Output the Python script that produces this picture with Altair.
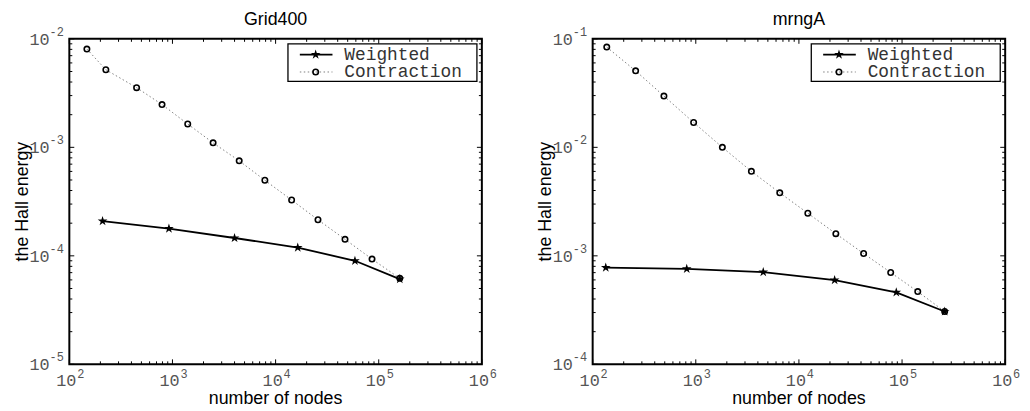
import altair as alt
import pandas as pd

# ---------------- data ----------------
titles = ["Grid400", "mrngA"]
series_names = ["Weighted", "Contraction"]
x_title = "number of nodes"
y_title = "the Hall energy"

grid_w_x = [210, 924, 4000, 16400, 58800, 160000]
grid_w_y = [2.09e-4, 1.78e-4, 1.46e-4, 1.19e-4, 9.0e-5, 6.1e-5]
grid_c_x = [148, 226, 449, 792, 1406, 2477, 4436, 7870, 14300, 25760, 47100, 86100, 160000]
grid_c_y = [8.05e-3, 5.19e-3, 3.55e-3, 2.48e-3, 1.64e-3, 1.10e-3, 7.51e-4, 4.97e-4,
            3.27e-4, 2.15e-4, 1.42e-4, 9.33e-5, 6.2e-5]

mrng_w_x = [134, 817, 4510, 22200, 87900, 259000]
mrng_w_y = [7.8e-4, 7.59e-4, 7.07e-4, 5.97e-4, 4.61e-4, 3.07e-4]
mrng_c_x = [137, 261, 491, 953, 1810, 3460, 6520, 12200, 22800, 42400, 77600, 142000, 259000]
mrng_c_y = [8.39e-2, 5.07e-2, 2.97e-2, 1.695e-2, 1.0e-2, 6.01e-3, 3.81e-3, 2.47e-3,
            1.6e-3, 1.05e-3, 7.02e-4, 4.68e-4, 3.07e-4]

x_major = [1e2, 1e3, 1e4, 1e5, 1e6]
x_major_exp = ["2", "3", "4", "5", "6"]
grid_y_major = [1e-5, 1e-4, 1e-3, 1e-2]
grid_y_exp = ["-5", "-4", "-3", "-2"]
mrng_y_major = [1e-4, 1e-3, 1e-2, 1e-1]
mrng_y_exp = ["-4", "-3", "-2", "-1"]
minor_mult = [2, 3, 4, 5, 6, 7, 8, 9]

W, H = 417, 329
MONO = "Liberation Mono"
SANS = "Liberation Sans"
LABEL_GRAY = "#555555"
STAR = ("M0,-1L0.2245,-0.309L0.951,-0.309L0.363,0.118L0.588,0.809L0,0.382"
        "L-0.588,0.809L-0.363,0.118L-0.951,-0.309L-0.2245,-0.309Z")
STAR_SIZE = 105
CIRCLE_SIZE = 30


def minor_ticks(majors):
    out = []
    for m in majors[:-1]:
        for k in minor_mult:
            out.append(m * k)
    return out


def panel(title, wx, wy, cx, cy, y_major, y_exp):
    xs = alt.Scale(type="log", domain=[x_major[0], x_major[-1]], nice=False)
    ys = alt.Scale(type="log", domain=[y_major[0], y_major[-1]], nice=False)

    dw = pd.DataFrame({"x": wx, "y": wy})
    dc = pd.DataFrame({"x": cx, "y": cy})
    X = alt.X("x:Q", scale=xs, axis=None)
    Y = alt.Y("y:Q", scale=ys, axis=None)

    c_line = alt.Chart(dc).mark_line(color="#808080", strokeWidth=1,
                                     strokeDash=[1.5, 2.5]).encode(x=X, y=Y)
    c_pts = alt.Chart(dc).mark_point(shape="circle", size=CIRCLE_SIZE, filled=False,
                                     color="black", strokeWidth=1.6,
                                     opacity=1).encode(x=X, y=Y)
    w_line = alt.Chart(dw).mark_line(color="black", strokeWidth=1.8).encode(x=X, y=Y)
    w_pts = alt.Chart(dw).mark_point(shape=STAR, size=STAR_SIZE, filled=True,
                                     color="black", opacity=1).encode(x=X, y=Y)

    # ticks (inward, on all four sides)
    dxM = pd.DataFrame({"v": x_major})
    dxm = pd.DataFrame({"v": minor_ticks(x_major)})
    dyM = pd.DataFrame({"v": y_major})
    dym = pd.DataFrame({"v": minor_ticks(y_major)})
    TX = alt.X("v:Q", scale=xs, axis=None)
    TY = alt.Y("v:Q", scale=ys, axis=None)
    tick_layers = []
    for d, ln in [(dxM, 5), (dxm, 3)]:
        tick_layers.append(alt.Chart(d).mark_rule(color="black", strokeWidth=1).encode(
            x=TX, y=alt.value(H), y2=alt.value(H - ln)))
        tick_layers.append(alt.Chart(d).mark_rule(color="black", strokeWidth=1).encode(
            x=TX, y=alt.value(0), y2=alt.value(ln)))
    for d, ln in [(dyM, 5), (dym, 3)]:
        tick_layers.append(alt.Chart(d).mark_rule(color="black", strokeWidth=1).encode(
            y=TY, x=alt.value(0), x2=alt.value(ln)))
        tick_layers.append(alt.Chart(d).mark_rule(color="black", strokeWidth=1).encode(
            y=TY, x=alt.value(W), x2=alt.value(W - ln)))

    # tick labels: "10" with superscript exponent
    dxl = pd.DataFrame({"v": x_major, "e": x_major_exp})
    dyl = pd.DataFrame({"v": y_major, "e": y_exp})
    xl_base = alt.Chart(dxl).mark_text(font=MONO, fontSize=17, color=LABEL_GRAY,
                                       align="center", baseline="middle", dx=-3).encode(
        x=TX, y=alt.value(H + 16.5), text=alt.value("10"))
    xl_exp = alt.Chart(dxl).mark_text(font=MONO, fontSize=12, color=LABEL_GRAY,
                                      align="left", baseline="middle", dx=8).encode(
        x=TX, y=alt.value(H + 9.5), text="e:N")
    yl_base = alt.Chart(dyl).mark_text(font=MONO, fontSize=17, color=LABEL_GRAY,
                                       align="right", baseline="middle", dy=1).encode(
        y=TY, x=alt.value(-20), text=alt.value("10"))
    yl_exp = alt.Chart(dyl).mark_text(font=MONO, fontSize=12, color=LABEL_GRAY,
                                      align="left", baseline="middle", dy=-7).encode(
        y=TY, x=alt.value(-20), text="e:N")

    # titles
    t_title = alt.Chart(pd.DataFrame({"t": [title]})).mark_text(
        font=SANS, fontSize=18, color="black", align="center", baseline="middle").encode(
        x=alt.value(W / 2), y=alt.value(-19), text="t:N")
    t_x = alt.Chart(pd.DataFrame({"t": [x_title]})).mark_text(
        font=SANS, fontSize=18, color="black", align="center", baseline="middle").encode(
        x=alt.value(W / 2), y=alt.value(H + 35), text="t:N")
    t_y = alt.Chart(pd.DataFrame({"t": [y_title]})).mark_text(
        font=SANS, fontSize=18, color="black", align="center", baseline="middle",
        angle=270).encode(x=alt.value(-47), y=alt.value(H / 2), text="t:N")

    # legend
    lg_box = alt.Chart(pd.DataFrame({"a": [0]})).mark_rect(
        fill="white", stroke="black", strokeWidth=1.3).encode(
        x=alt.value(221), x2=alt.value(412), y=alt.value(5), y2=alt.value(43))
    r1, r2 = 16, 33.5
    lg_w_line = alt.Chart(pd.DataFrame({"a": [0]})).mark_rule(
        color="black", strokeWidth=1.8).encode(
        x=alt.value(233), x2=alt.value(266), y=alt.value(r1))
    lg_w_pt = alt.Chart(pd.DataFrame({"a": [0]})).mark_point(
        shape=STAR, size=STAR_SIZE, filled=True, color="black", opacity=1).encode(
        x=alt.value(249), y=alt.value(r1))
    lg_c_line = alt.Chart(pd.DataFrame({"a": [0]})).mark_rule(
        color="#808080", strokeWidth=1, strokeDash=[1.5, 2.5]).encode(
        x=alt.value(233), x2=alt.value(266), y=alt.value(r2))
    lg_c_pt = alt.Chart(pd.DataFrame({"a": [0]})).mark_point(
        shape="circle", size=CIRCLE_SIZE, filled=False, color="black", strokeWidth=1.6,
        opacity=1).encode(x=alt.value(249), y=alt.value(r2))
    lg_t1 = alt.Chart(pd.DataFrame({"t": [series_names[0]]})).mark_text(
        font=MONO, fontSize=18, color="#333333", align="left", baseline="middle").encode(
        x=alt.value(278), y=alt.value(r1), text="t:N")
    lg_t2 = alt.Chart(pd.DataFrame({"t": [series_names[1]]})).mark_text(
        font=MONO, fontSize=18, color="#333333", align="left", baseline="middle").encode(
        x=alt.value(278), y=alt.value(r2), text="t:N")

    layers = [c_line, c_pts, w_line, w_pts] + tick_layers + [
        xl_base, xl_exp, yl_base, yl_exp, t_title, t_x, t_y,
        lg_box, lg_w_line, lg_w_pt, lg_c_line, lg_c_pt, lg_t1, lg_t2]
    return alt.layer(*layers).properties(width=W, height=H)


left = panel(titles[0], grid_w_x, grid_w_y, grid_c_x, grid_c_y, grid_y_major, grid_y_exp)
right = panel(titles[1], mrng_w_x, mrng_w_y, mrng_c_x, mrng_c_y, mrng_y_major, mrng_y_exp)

chart = alt.hconcat(left, right, spacing=112, bounds="flush").properties(
    padding={"left": 5, "top": 0, "right": 0, "bottom": 0}
).configure_view(stroke="black", strokeWidth=2)

chart.save("out.html", embed_options={"renderer": "svg", "actions": False})
